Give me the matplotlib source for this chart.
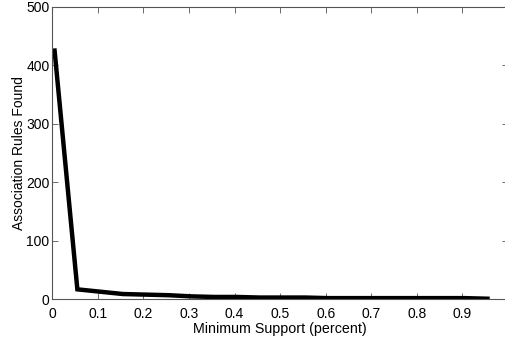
import matplotlib
matplotlib.use("Agg")
import matplotlib.pyplot as plt

support = [0.005, 0.055, 0.105, 0.155, 0.205, 0.255, 0.305, 0.355, 0.405, 0.455,
           0.505, 0.555, 0.605, 0.655, 0.705, 0.755, 0.805, 0.855, 0.905, 0.955]
rules = [425, 17, 13, 9, 8, 7, 5, 4, 4, 3, 3, 3, 2, 2, 2, 2, 2, 2, 2, 1]

plt.rcParams['font.family'] = ['Liberation Sans', 'DejaVu Sans']
fig = plt.figure(figsize=(5.05, 3.41), dpi=100)
W, H = 505, 341
x0, x1 = 52.3, 508.0
y0, y1 = 299.3, 6.7
ax = fig.add_axes([x0 / W, 1 - y0 / H, (x1 - x0) / W, (y0 - y1) / H])
ax.plot(support, rules, color='black', linewidth=3.2, solid_joinstyle='miter')
ax.set_xlim(0, 1)
ax.set_ylim(0, 500)
ax.set_xticks([0, 0.1, 0.2, 0.3, 0.4, 0.5, 0.6, 0.7, 0.8, 0.9])
ax.set_xticklabels(['0', '0.1', '0.2', '0.3', '0.4', '0.5', '0.6', '0.7', '0.8', '0.9'])
ax.set_yticks([0, 100, 200, 300, 400, 500])
ax.tick_params(direction='in', top=True, right=True, labelsize=10, length=4, width=0.6,
               color='#555555')
ax.tick_params(axis='x', pad=5.5)
ax.tick_params(axis='y', pad=2)
for s in ax.spines.values():
    s.set_linewidth(0.8)
    s.set_color('#555555')
ax.set_xlabel('Minimum Support (percent)', fontsize=10.3, labelpad=0.5)
ax.set_ylabel('Association Rules Found', fontsize=10, labelpad=0)
fig.savefig('out.png', dpi=100)
